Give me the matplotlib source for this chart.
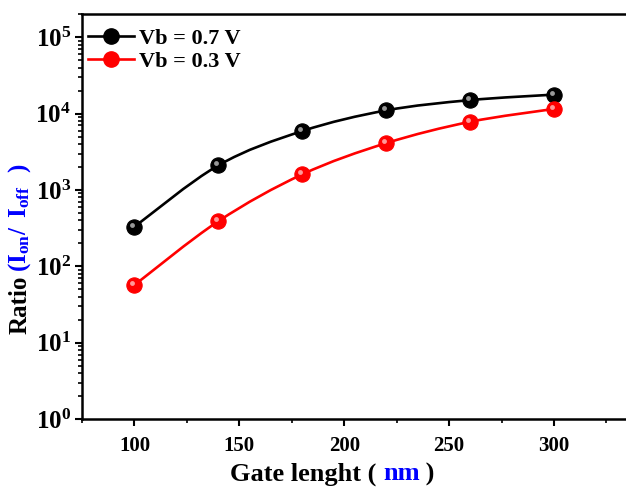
import numpy as np
import matplotlib
matplotlib.use("Agg")
import matplotlib.pyplot as plt
from matplotlib.path import Path
from matplotlib.patches import PathPatch
from matplotlib.lines import Line2D
from matplotlib.transforms import ScaledTranslation

plt.rcParams['font.family'] = 'Liberation Serif'
plt.rcParams['font.weight'] = 'bold'
plt.rcParams['mathtext.fontset'] = 'custom'
plt.rcParams['mathtext.rm'] = 'Liberation Serif:bold'
plt.rcParams['mathtext.bf'] = 'Liberation Serif:bold'
plt.rcParams['mathtext.it'] = 'Liberation Serif:bold'

gate_len = [100, 140, 180, 220, 260, 300]
ratio_07 = [330, 2100, 5900, 11000, 15000, 17700]
ratio_03 = [57, 390, 1600, 4100, 7800, 11500]
labels = ['Vb = 0.7 V', 'Vb = 0.3 V']
colors = ['black', 'red']
ytick_vals = [1, 10, 100, 1e3, 1e4, 1e5]
ytick_labels = [r'$\mathbf{10^{%d}}$' % i for i in range(6)]


def smooth_path(x, y):
    # catmull-rom -> bezier, done in log space for y
    x = np.asarray(x, float)
    ly = np.log10(y)
    pts = np.column_stack([x, ly])
    verts = [pts[0]]
    codes = [Path.MOVETO]
    n = len(pts)
    for i in range(n - 1):
        p0 = pts[i - 1] if i > 0 else pts[i]
        p1 = pts[i]
        p2 = pts[i + 1]
        p3 = pts[i + 2] if i + 2 < n else pts[i + 1]
        c1 = p1 + (p2 - p0) / 6
        c2 = p2 - (p3 - p1) / 6
        verts += [c1, c2, p2]
        codes += [Path.CURVE4] * 3
    verts = np.array(verts)
    verts[:, 1] = 10 ** verts[:, 1]
    return Path(verts, codes)


fig = plt.figure(figsize=(6.26, 4.88), dpi=100)
ax = fig.add_axes([0.131, 0.141, 0.888, 0.830])
ax.set_yscale('log')
ax.set_xlim(75, 340)
ax.set_ylim(1, 2e5)

shift = ScaledTranslation(-2 / 100, 2 / 100, fig.dpi_scale_trans)
for ys, c in zip([ratio_07, ratio_03], colors):
    ax.add_patch(PathPatch(smooth_path(gate_len, ys), fill=False, edgecolor=c, lw=1.9, zorder=2))
    ax.plot(gate_len, ys, 'o', ms=11, mfc=c, mec=c, mew=0.8, zorder=3)
    ax.plot(gate_len, ys, 'o', ms=3.5, mfc='white', mec='none', alpha=0.6, zorder=4,
            transform=ax.transData + shift)

handles = [Line2D([], [], color=c, lw=1.9, marker='o', ms=11, mfc=c, mec=c) for c in colors]
ax.legend(handles, labels, loc='upper left', frameon=False, fontsize=16, handlelength=2.1,
          handletextpad=0.2, borderaxespad=0.0, labelspacing=0.12,
          bbox_to_anchor=(-0.006, 0.987))

ax.set_xticks([100, 150, 200, 250, 300])
ax.set_xticks([75, 125, 175, 225, 275, 325], minor=True)
ax.set_yticks(ytick_vals)
ax.set_yticklabels(ytick_labels)
ax.tick_params(axis='x', which='major', labelsize=15, pad=7)
ax.tick_params(axis='y', which='major', labelsize=18, pad=3)
ax.tick_params(axis='both', which='major', direction='out', length=5, width=1.5)
ax.tick_params(axis='both', which='minor', direction='out', length=3, width=1.2)
ax.tick_params(top=False, right=False, which='both')
for s in ax.spines.values():
    s.set_linewidth(1.8)

# x label with blue unit
fig.text(0.612, 0.016, 'Gate lenght ( ', fontsize=19, ha='right', va='baseline')
fig.text(0.612, 0.016, 'nm', fontsize=19, ha='left', va='baseline', color='blue')
fig.text(0.670, 0.016, ' )', fontsize=19, ha='left', va='baseline')

# y label: black "Ratio" + blue ratio
fig.text(0.032, 0.316, 'Ratio', fontsize=18, rotation=90, ha='center', va='bottom')
fig.text(0.032, 0.443, r'$(I_{on}/\ \,I_{off}\ \ )$', fontsize=18, rotation=90, ha='center',
         va='bottom', color='blue')

fig.savefig('out.png', dpi=100)
